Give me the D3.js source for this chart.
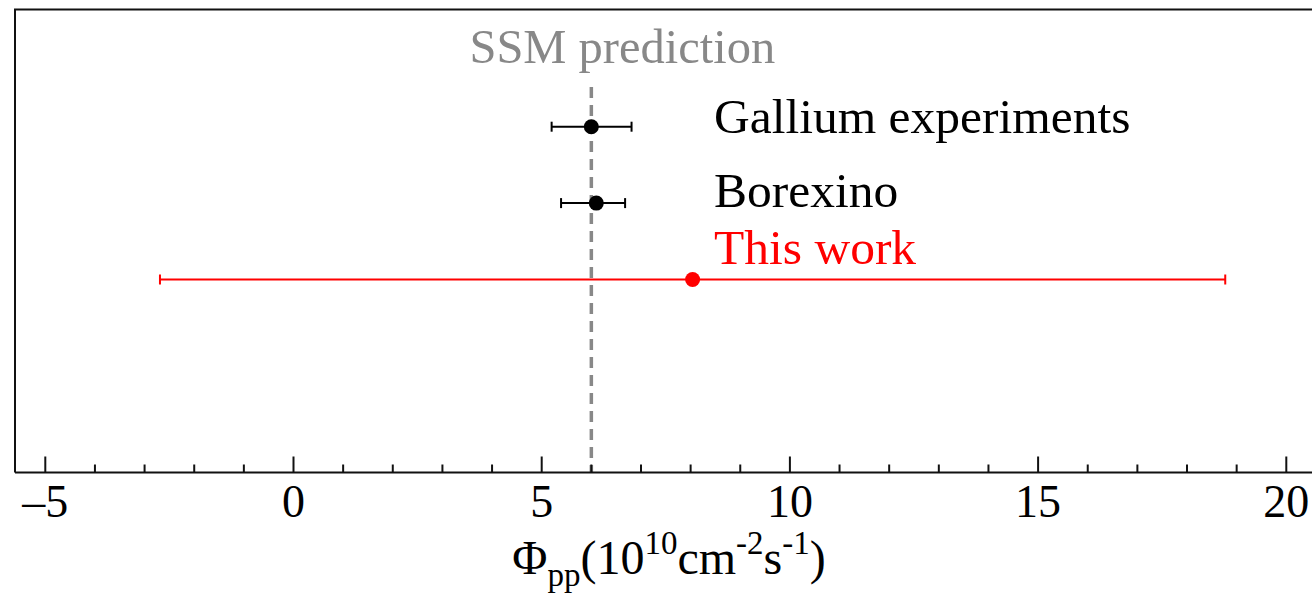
<!DOCTYPE html>
<html>
<head>
<meta charset="utf-8">
<script src="https://cdn.jsdelivr.net/npm/d3@7"></script>
<style>
  html, body { margin: 0; padding: 0; background: #fff; }
  svg { display: block; }
  text { font-family: "Liberation Serif", "Times New Roman", serif; }
</style>
</head>
<body>
<svg id="chart" width="1312" height="602"></svg>
<script>
// ---- data ----
const experiments = ["Gallium experiments", "Borexino", "This work"];
const centralValues = [6.0, 6.1, 8.04];
const lowerBounds = [5.2, 5.39, -2.69];
const upperBounds = [6.81, 6.68, 18.77];
const seriesColors = ["#000000", "#000000", "#ff0000"];
const ssmPrediction = 6.0;
const ssmLabel = "SSM prediction";
const majorTicks = [-5, 0, 5, 10, 15, 20];
const minorTicks = d3.range(-5, 21, 1);
const tickLabels = ["\u20135", "0", "5", "10", "15", "20"];

// ---- layout ----
const svg = d3.select("#chart");
const frameLeft = 15, frameTop = 9.5, axisY = 472.5;

const x = d3.scaleLinear().domain([0, 20]).range([293.5, 1286.3]);
const y = d3.scalePoint().domain(experiments).range([126.7, 279.5]);

// frame (left + top)
svg.append("path")
  .attr("d", `M${frameLeft},${axisY}V${frameTop}H1312`)
  .attr("fill", "none").attr("stroke", "#111").attr("stroke-width", 2);

// SSM dashed line
svg.append("line")
  .attr("x1", x(ssmPrediction)).attr("x2", x(ssmPrediction))
  .attr("y1", 87).attr("y2", axisY)
  .attr("stroke", "#888").attr("stroke-width", 3.5)
  .attr("stroke-dasharray", "11,7");

svg.append("text")
  .attr("x", x(ssmPrediction) + 31).attr("y", 63)
  .attr("text-anchor", "middle")
  .attr("font-size", 48.5).attr("fill", "#888")
  .text(ssmLabel);

// x axis
const axisG = svg.append("g");
axisG.append("line")
  .attr("x1", frameLeft).attr("x2", 1312)
  .attr("y1", axisY).attr("y2", axisY)
  .attr("stroke", "#111").attr("stroke-width", 2);

axisG.selectAll("line.minor")
  .data(minorTicks.filter(v => !majorTicks.includes(v)))
  .join("line").attr("class", "minor")
  .attr("x1", d => x(d)).attr("x2", d => x(d))
  .attr("y1", axisY).attr("y2", axisY - 8)
  .attr("stroke", "#111").attr("stroke-width", 2);

axisG.selectAll("line.major")
  .data(majorTicks)
  .join("line").attr("class", "major")
  .attr("x1", d => x(d)).attr("x2", d => x(d))
  .attr("y1", axisY).attr("y2", axisY - 16)
  .attr("stroke", "#111").attr("stroke-width", 2);

axisG.selectAll("text.tick")
  .data(majorTicks)
  .join("text").attr("class", "tick")
  .attr("x", d => x(d)).attr("y", 517)
  .attr("text-anchor", "middle")
  .attr("font-size", 46).attr("fill", "#000")
  .text((d, i) => tickLabels[i]);

// axis title: Φpp(10^10 cm^-2 s^-1)
const title = svg.append("text")
  .attr("x", 669).attr("y", 574)
  .attr("text-anchor", "middle")
  .attr("font-size", 48).attr("fill", "#000");
title.append("tspan").text("\u03A6");
title.append("tspan").attr("font-size", 33).attr("dy", 12).text("pp");
title.append("tspan").attr("dy", -12).text("(10");
title.append("tspan").attr("font-size", 33).attr("dy", -20).text("10");
title.append("tspan").attr("dy", 20).text("cm");
title.append("tspan").attr("font-size", 33).attr("dy", -20).text("-2");
title.append("tspan").attr("dy", 20).text("s");
title.append("tspan").attr("font-size", 33).attr("dy", -20).text("-1");
title.append("tspan").attr("dy", 20).text(")");

// error bars and points
const rows = experiments.map((name, i) => ({
  name, c: centralValues[i], lo: lowerBounds[i], hi: upperBounds[i], color: seriesColors[i]
}));

const g = svg.append("g");
const row = g.selectAll("g.row").data(rows).join("g").attr("class", "row");
row.append("line")
  .attr("x1", d => x(d.lo)).attr("x2", d => x(d.hi))
  .attr("y1", d => y(d.name)).attr("y2", d => y(d.name))
  .attr("stroke", d => d.color).attr("stroke-width", 2);
row.append("line")
  .attr("x1", d => x(d.lo)).attr("x2", d => x(d.lo))
  .attr("y1", d => y(d.name) - 5).attr("y2", d => y(d.name) + 5)
  .attr("stroke", d => d.color).attr("stroke-width", 2);
row.append("line")
  .attr("x1", d => x(d.hi)).attr("x2", d => x(d.hi))
  .attr("y1", d => y(d.name) - 5).attr("y2", d => y(d.name) + 5)
  .attr("stroke", d => d.color).attr("stroke-width", 2);
row.append("circle")
  .attr("cx", d => x(d.c)).attr("cy", d => y(d.name))
  .attr("r", 7.5).attr("fill", d => d.color);

// labels
const labelOffsets = [6, 3.5, -16];
row.append("text")
  .attr("x", 714)
  .attr("y", (d, i) => y(d.name) + labelOffsets[i])
  .attr("font-size", 49.5)
  .attr("fill", d => d.color)
  .text(d => d.name);
</script>
</body>
</html>
